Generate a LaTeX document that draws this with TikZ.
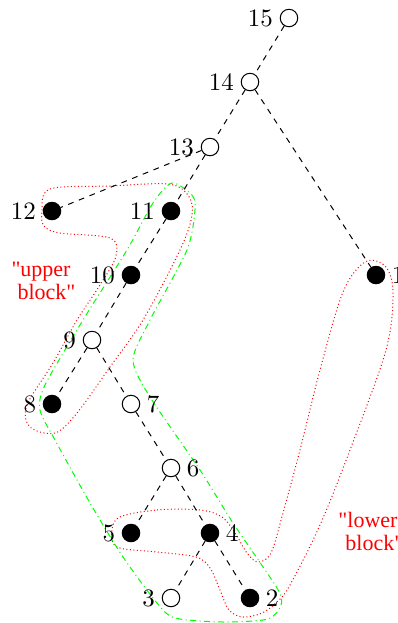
\documentclass[tikz,border=0pt]{standalone}
\usepackage{fontspec}
\newfontfamily\blockfont{Liberation Serif}
\begin{document}
\begin{tikzpicture}[x=0.4pt,y=-0.4pt,
  vtx/.style={circle,draw,minimum size=7pt,inner sep=0pt},
  blk/.style={vtx,fill=black},
  wht/.style={vtx,fill=white},
  tree/.style={dashed,dash pattern=on 2.3pt off 2.3pt},
  redhull/.style={red,densely dotted},
  greenhull/.style={green,dash pattern=on 2.4pt off 1.4pt on 0.4pt off 1.4pt},
  blocklabel/.style={red,align=left,inner sep=0pt,anchor=north west,
    font=\blockfont\fontsize{8.8pt}{9.2pt}\selectfont},
  every label/.style={inner sep=2pt},
  label distance=0.5pt]
\useasboundingbox (0,0) rectangle (398,623);

% hull around the upper block (12, 11, 10, 9, 8)
\draw[redhull] plot[smooth cycle,tension=0.55] coordinates {
  (42,211) (50,189) (110,186) (168,184) (188,195) (192,215) (180,250)
  (143,320) (110,367) (77,413) (55,433) (30,427) (27,405) (53,363)
  (77,320) (100,285) (116,256) (110,238) (60,233) (44,226)};

% hull around the lower block (5, 4, 2, 1)
\draw[redhull] plot[smooth cycle,tension=0.55] coordinates {
  (118,518) (157,510) (200,510) (222,517) (235,533) (247,553) (258,562)
  (271,553) (283,513) (300,450) (320,370) (343,292) (365,262) (385,266)
  (393,292) (386,350) (350,450) (320,525) (290,585) (277,602) (262,613)
  (243,617) (229,610) (220,590) (210,568) (196,557) (157,552) (120,548)
  (112,538)};

% dash-dotted outline of the main branch
\draw[greenhull] plot[smooth cycle,tension=0.45] coordinates {
  (172,183) (192,195) (195,210) (187,250) (150,320) (133,360) (150,397)
  (200,470) (233,523) (277,588) (281,605) (268,619) (223,622) (175,618)
  (157,603) (123,557) (90,503) (55,440) (40,410) (45,385) (83,320)
  (127,250) (153,203)};

% vertices
\node[wht,label=left:15]  (n15) at (289,18) {};
\node[wht,label=left:14]  (n14) at (250,82) {};
\node[wht,label=left:13]  (n13) at (210,147) {};
\node[blk,label=left:12]  (n12) at (52,211) {};
\node[blk,label=left:11]  (n11) at (171,211) {};
\node[blk,label=left:10]  (n10) at (131,275) {};
\node[wht,label=left:9]   (n9)  at (92,340) {};
\node[blk,label=left:8]   (n8)  at (52,404) {};
\node[wht,label=right:7]  (n7)  at (131,404) {};
\node[wht,label=right:6]  (n6)  at (171,468) {};
\node[blk,label=left:5]   (n5)  at (131,533) {};
\node[blk,label=right:4]  (n4)  at (210,533) {};
\node[wht,label=left:3]   (n3)  at (171,598) {};
\node[blk,label=right:2]  (n2)  at (250,598) {};
\node[blk,label=right:1]  (n1)  at (376,275) {};

% tree edges
\draw[tree] (n15) -- (n14);
\draw[tree] (n14) -- (n13);
\draw[tree] (n14) -- (n1);
\draw[tree] (n13) -- (n12);
\draw[tree] (n13) -- (n11);
\draw[tree] (n11) -- (n10);
\draw[tree] (n10) -- (n9);
\draw[tree] (n9) -- (n8);
\draw[tree] (n9) -- (n7);
\draw[tree] (n7) -- (n6);
\draw[tree] (n6) -- (n5);
\draw[tree] (n6) -- (n4);
\draw[tree] (n4) -- (n3);
\draw[tree] (n4) -- (n2);

% block names
\node[blocklabel] (ub) at (11,262) {"upper\\\hspace*{2.4pt}block"};
\node[blocklabel] (lb) at (338,512) {"lower\\\hspace*{2.8pt}block"};
\end{tikzpicture}
\end{document}
